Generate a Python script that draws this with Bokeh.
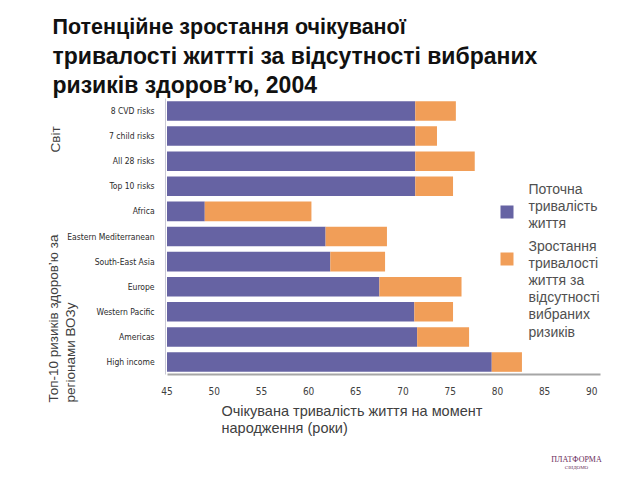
import math
from bokeh.plotting import figure
from bokeh.models import (Label, BoxAnnotation, FixedTicker, FactorRange,
                          Range1d, ColumnDataSource)
from bokeh.embed import file_html
from bokeh.resources import INLINE

# ---------------- data ----------------
categories = ["8 CVD risks", "7 child risks", "All 28 risks", "Top 10 risks",
              "Africa", "Eastern Mediterranean", "South-East Asia", "Europe",
              "Western Pacific", "Americas", "High income"]
current_le = [71.3, 71.3, 71.3, 71.3, 49.0, 61.8, 62.3, 67.5, 71.2, 71.5, 79.4]
gain_le = [4.3, 2.3, 6.3, 4.0, 11.3, 6.5, 5.8, 8.7, 4.1, 5.5, 3.2]
x_ticks = [45, 50, 55, 60, 65, 70, 75, 80, 85, 90]

title_lines = ["Потенційне зростання очікуваної",
               "тривалості життті за відсутності вибраних",
               "ризиків здоров’ю, 2004"]
legend_current = ["Поточна", "тривалість", "життя"]
legend_gain = ["Зростання", "тривалості", "життя за", "відсутності",
               "вибраних", "ризиків"]
xlabel_lines = ["Очікувана тривалість життя на момент", "народження (роки)"]
group_world = "Світ"
group_regions = ["Топ-10 ризиків здоров’ю за", "регіонами ВОЗу"]
logo_lines = ["ПЛАТФОРМА", "СВІДОМО"]

# ---------------- style / layout ----------------
PURPLE = "#6663A3"
ORANGE = "#F19E58"
W, H = 632, 472
PX_PER_YEAR = 9.44
X0_PAGE = 166.5          # page x of 45 years
PAD_ROWS = 3.9           # empty rows above and below the bars

src = ColumnDataSource(dict(
    cat=categories,
    base=[x_ticks[0]] * len(categories),
    cur=current_le,
    end=[c + g for c, g in zip(current_le, gain_le)],
))

p = figure(width=W, height=H,
           y_range=FactorRange(factors=list(reversed(categories)),
                               range_padding=PAD_ROWS,
                               range_padding_units="absolute"),
           x_range=Range1d(x_ticks[0] - X0_PAGE / PX_PER_YEAR,
                           x_ticks[0] + (W - X0_PAGE) / PX_PER_YEAR),
           output_backend="svg", toolbar_location=None,
           min_border_left=0, min_border_right=0,
           min_border_top=0, min_border_bottom=0)
p.outline_line_color = None
p.grid.grid_line_color = None
p.background_fill_color = "white"

p.hbar(y="cat", left="base", right="cur", height=0.78, source=src,
       fill_color=PURPLE, line_color=None)
p.hbar(y="cat", left="cur", right="end", height=0.78, source=src,
       fill_color=ORANGE, line_color=None)

TICKFONT = "DejaVu Sans Condensed"
p.xaxis.fixed_location = 0
p.xaxis.bounds = (45, 90.9)
p.xaxis.ticker = FixedTicker(ticks=x_ticks)
p.xaxis.major_tick_line_color = None
p.xaxis.minor_tick_line_color = None
p.xaxis.axis_line_color = "#a6a6a6"
p.xaxis.axis_line_width = 2
p.xaxis.major_label_text_font = TICKFONT
p.xaxis.major_label_text_font_size = "10px"
p.xaxis.major_label_text_color = "#404040"
p.xaxis.major_label_standoff = 6

p.yaxis.fixed_location = 44.85
p.yaxis.bounds = (0, 11)
p.yaxis.major_tick_line_color = None
p.yaxis.minor_tick_line_color = None
p.yaxis.axis_line_color = "#c9c9d6"
p.yaxis.major_label_text_font = TICKFONT
p.yaxis.major_label_text_font_size = "8.5px"
p.yaxis.major_label_text_color = "#2b2b2b"
p.yaxis.major_label_standoff = 5


def sx(px):
    return px


def sy(py):
    return H - py


def lab(text, px, py, size, color="#404040", bold=False, align="left",
        baseline="middle", angle=0.0, font="Liberation Sans"):
    p.add_layout(Label(x=sx(px), y=sy(py), x_units="screen", y_units="screen",
                       text=text, text_font=font, text_font_size=size,
                       text_color=color, text_align=align,
                       text_baseline=baseline, angle=angle,
                       text_font_style="bold" if bold else "normal"))


# title
title_sizes = ["21.5px", "23px", "23px"]
for i, t in enumerate(title_lines):
    lab(t, 52, 26 + 29 * i, title_sizes[i], color="#111111", bold=True,
        baseline="alphabetic")


# legend
def box(px0, py0, size, color):
    p.add_layout(BoxAnnotation(left=sx(px0), right=sx(px0 + size),
                               top=sy(py0), bottom=sy(py0 + size),
                               left_units="screen", right_units="screen",
                               top_units="screen", bottom_units="screen",
                               fill_color=color, fill_alpha=1.0,
                               line_color=None))


box(500, 205, 13, PURPLE)
box(500, 252, 13, ORANGE)
for i, t in enumerate(legend_current):
    lab(t, 528, 188 + 17 * i, "14px", color="#505050")
for i, t in enumerate(legend_gain):
    lab(t, 528, 245 + 17.2 * i, "14px", color="#505050")

# x axis title
for i, t in enumerate(xlabel_lines):
    lab(t, 221, 410 + 17 * i, "14.5px", color="#404040")

# group labels (vertical)
lab(group_world, 55, 152, "13.5px", angle=math.pi / 2)
lab(group_regions[0], 53, 402, "13.5px", angle=math.pi / 2)
lab(group_regions[1], 70, 402, "13.5px", angle=math.pi / 2)

# logo text
lab(logo_lines[0], 576, 459, "8px", color="#6b2d5c", align="center",
    font="Liberation Serif")
lab(logo_lines[1], 576, 467, "5px", color="#6b2d5c", align="center",
    font="Liberation Serif")

open("out.html", "w").write(file_html(p, INLINE))
